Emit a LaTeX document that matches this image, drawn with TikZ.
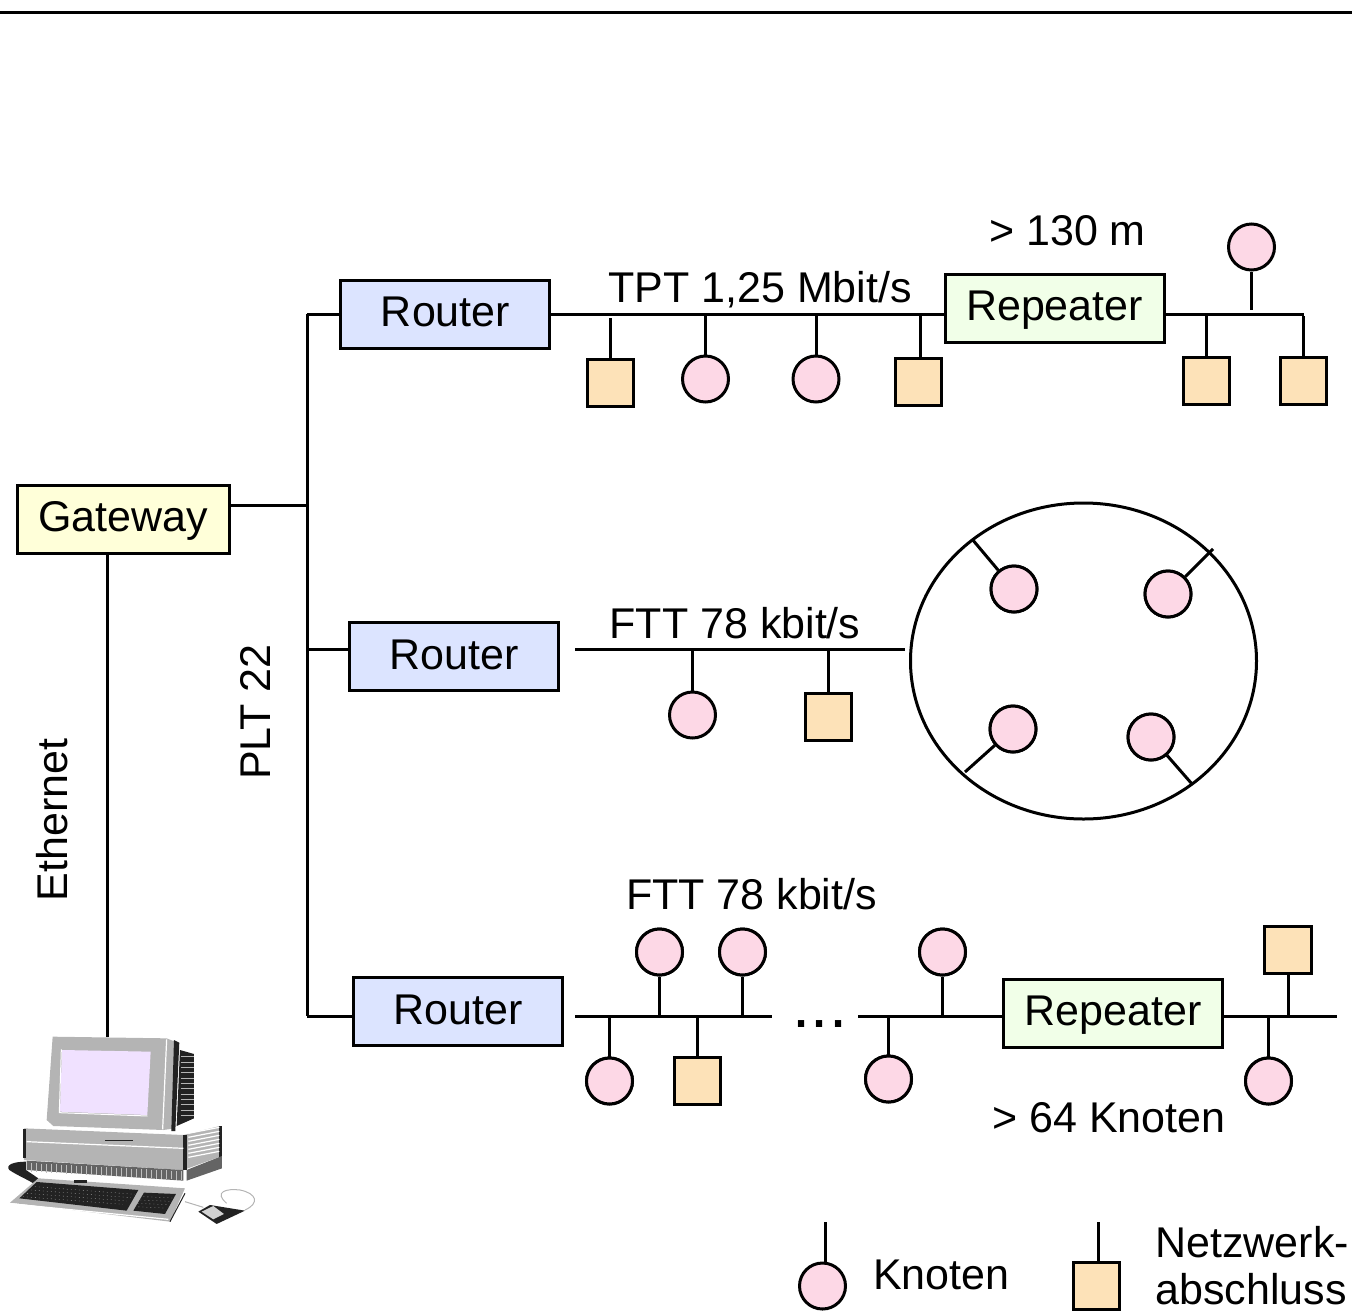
\documentclass[tikz,border=0pt]{standalone}
\usepackage{fontspec}
\usetikzlibrary{shapes.geometric}
\setmainfont{Liberation Sans}
\begin{document}
\begin{tikzpicture}[x=1pt,y=-1pt,line width=3pt,line cap=butt,
  box/.style={draw,inner sep=0pt,text height=30pt,text depth=6pt,minimum height=68pt},
  gw/.style={box,fill=gwc,minimum width=212pt},
  rt/.style={box,fill=rtc,minimum width=209pt},
  rp/.style={box,fill=rpc,minimum width=219pt},
  kn/.style={circle,draw,fill=knc,inner sep=0pt,minimum size=46pt},
  ab/.style={rectangle,draw,fill=abc,inner sep=0pt,minimum size=46.5pt},
  lbl/.style={inner sep=0pt,anchor=base}]
\definecolor{gwc}{HTML}{FFFFD9}
\definecolor{rtc}{HTML}{DCE4FF}
\definecolor{rpc}{HTML}{F1FFE8}
\definecolor{knc}{HTML}{FDD8E6}
\definecolor{abc}{HTML}{FDE2B8}
\definecolor{scr}{HTML}{F0E1FF}
\definecolor{cg}{HTML}{B4B4B4}
\definecolor{cd}{HTML}{222222}
\useasboundingbox (0,0) rectangle (1352,1315);
\fontsize{43pt}{47pt}\selectfont
\coordinate (r0) at (0,12); \coordinate (r1) at (1352,12);
\draw (r0) -- (r1);
% boxes
\node[gw] (gate) at (123,519) {Gateway};
\node[rt] (rta) at (445,314) {\hspace{1pt}Router};
\node[rt] (rtb) at (453.5,656.5) {\hspace{1pt}\raisebox{-1pt}{Router}};
\node[rt] (rtc) at (457.5,1011.5) {\hspace{1pt}\raisebox{-1pt}{Router}};
\node[rp] (rpa) at (1054.5,308) {Repeater};
\node[rp] (rpb) at (1113,1013.5) {Repeater};
% main bus
\coordinate (bg) at (307,505); \coordinate (ba) at (307,314);
\coordinate (bb) at (307,649); \coordinate (bc) at (307,1016);
\draw[line cap=square] (ba) -- (bc);
\draw (gate.east |- bg) -- (bg);
\draw (ba) -- (rta.west |- ba);
\draw (bb) -- (rtb.west |- bb);
\draw (bc) -- (rtc.west |- bc);
% computer link
\coordinate (pc) at (107,1037);
\draw (gate.south -| pc) -- (pc);
% top segment
\coordinate (ta) at (1304,314);
\draw (rta.east |- ta) -- (rpa.west |- ta);
\draw (rpa.east |- ta) -- (ta);
\node[ab] (a1) at (610.5,383) {};
\node[kn] (a2) at (705.5,379) {};
\node[kn] (a3) at (816,379) {};
\node[ab] (a4) at (918.5,382) {};
\node[ab] (a5) at (1206.5,381) {};
\node[ab] (a6) at (1303.5,381) {};
\node[kn] (a7) at (1251.5,247) {};
\draw (a1.north) -- ++(0,-40);
\draw (a2.north) -- ++(0,-42);
\draw (a3.north) -- ++(0,-42);
\draw ([xshift=2pt]a4.north) -- ++(0,-41);
\draw (a5.north) -- ++(0,-40);
\draw (a6.north) -- ++(0,-40);
\draw (a7.south) -- ++(0,38);
% middle segment
\coordinate (m0) at (575,649); \coordinate (m1) at (905,649);
\draw (m0) -- (m1);
\node[kn] (b1) at (692.5,715) {};
\node[ab] (b2) at (828.5,717) {};
\draw (b1.north) -- (b1.north |- m0);
\draw (b2.north) -- (b2.north |- m0);
\node[ellipse,draw,minimum width=346pt,minimum height=316pt,inner sep=0pt] (ring) at (1083.5,661) {};
\node[kn] (c1) at (1014,589) {};
\node[kn] (c2) at (1168,594) {};
\node[kn] (c3) at (1013,729) {};
\node[kn] (c4) at (1151,737) {};
\coordinate (e1) at (972,539); \coordinate (e2) at (1213,549);
\coordinate (e3) at (965,772); \coordinate (e4) at (1192,784);
\draw (c1) -- (e1); \draw (c2) -- (e2); \draw (c3) -- (e3); \draw (c4) -- (e4);
\node[kn] at (c1) {}; \node[kn] at (c2) {}; \node[kn] at (c3) {}; \node[kn] at (c4) {};
% bottom segment
\coordinate (s0) at (575,1016); \coordinate (s1) at (772,1016);
\coordinate (s2) at (858,1016); \coordinate (s3) at (1337,1016);
\draw (s0) -- (s1);
\draw (s2) -- (rpb.west |- s2);
\draw (rpb.east |- s3) -- (s3);
\node[kn] (d1) at (659.5,952) {};
\node[kn] (d2) at (742.5,952) {};
\node[kn] (d3) at (609.5,1081) {};
\node[ab] (d4) at (697.5,1081) {};
\node[kn] (d5) at (942.5,952) {};
\node[kn] (d6) at (888.5,1079) {};
\node[ab] (d7) at (1288,950) {};
\node[kn] (d8) at (1268.5,1081) {};
\foreach \n in {d1,d2,d3,d4,d5,d6,d7,d8} {\draw (\n) -- (\n |- s0);}
\foreach \n/\k in {d1/kn,d2/kn,d3/kn,d4/ab,d5/kn,d6/kn,d7/ab,d8/kn} {\node[\k] at (\n) {};}
% labels
\node[lbl] (t1) at (760,302) {TPT 1,25 Mbit/s};
\node[lbl] (t2) at (1067.5,245) {> 130 m};
\node[lbl] (t3) at (735,638) {FTT 78 kbit/s};
\node[lbl] (t4) at (751.5,909) {FTT 78 kbit/s};
\node[lbl] (t5) at (1109,1132) {> 64 Knoten};
\node[lbl] (t6) at (820,1027) {\fontsize{65pt}{70pt}\selectfont ...};
\node[lbl,rotate=90] (t7) at (67,820) {Ethernet};
\node[lbl,rotate=90] (t8) at (270,712) {PLT 22};
% legend
\node[kn] (l1) at (822.5,1286) {};
\coordinate (lt1) at (825,1222);
\draw (l1.north -| lt1) -- (lt1);
\node[ab] (l2) at (1096.5,1286) {};
\coordinate (lt2) at (1098,1222);
\draw (l2.north -| lt2) -- (lt2);
\node[lbl,anchor=base west] (t9) at (871.5,1289) {Knoten};
\node[lbl,anchor=base west] (t10) at (1154,1257) {Netzwerk-};
\node[lbl,anchor=base west] (t11) at (1154,1304) {abschluss};
% computer
\begin{scope}[shift={(0,1020)},x=0.3333pt,y=-0.3333pt,line width=1pt]
 % cable
 \fill[cd] (78,425) .. controls (40,425) and (15,435) .. (28,450) .. controls (50,465) and (85,480) .. (100,490) -- (115,475) -- (78,450) -- cycle;
 % base unit
 \fill[cg] (72,325) -- (550,345) -- (660,318) -- (660,410) -- (550,450) -- (72,420) -- cycle;
 \fill[white] (80,320) -- (170,312) -- (655,310) -- (550,335) -- cycle;
 \fill[cd] (70,326) rectangle (78,415);
 \fill[cd] (550,345) rectangle (562,450);
 \fill[cd] (658,318) rectangle (666,410);
 \draw[white,line width=1.2pt] (80,365) -- (550,385);
 \draw[cd,line width=.6pt] (315,362) -- (400,362);
 \foreach \y in {340,352,...,412} {\draw[white,line width=1.2pt] (565,\y) -- (658,\y-18);}
 \fill[cd!70] (80,422) -- (550,450) -- (550,482) -- (80,450) -- cycle;
 \fill[cd!70] (560,450) -- (666,408) -- (666,445) -- (560,482) -- cycle;
 \foreach \x in {95,110,...,545} {\draw[white!75!black,line width=.8pt] (\x,424+\x*0.055) -- (\x,450+\x*0.055);}
 % monitor
 \fill[cd] (540,90) -- (582,102) -- (582,295) -- (530,318) -- cycle;
 \foreach \y in {110,126,...,286} {\draw[cg,line width=1pt] (542,\y) -- (582,\y);}
 \fill[cg] (158,50) -- (500,55) -- (525,65) -- (525,325) -- (490,330) -- (160,318) -- (140,300) -- cycle;
 \fill[scr] (186,90) -- (452,95) -- (442,285) -- (180,275) -- cycle;
 \draw[white,line width=1.2pt] (500,58) -- (488,328);
 \draw[white,line width=1pt] (184,88) -- (178,278) -- (442,288);
 \fill[cd] (522,60) -- (538,68) -- (526,333) -- (514,333) -- cycle;
 % keyboard
 \fill[cg] (115,475) -- (555,505) -- (510,605) -- (30,548) -- cycle;
 \draw[white,line width=1.2pt] (40,552) -- (505,598);
 \fill[cd] (110,486) -- (415,510) -- (380,572) -- (58,535) -- cycle;
 \fill[cd] (432,518) -- (528,522) -- (495,582) -- (400,572) -- cycle;
 \foreach \i in {0,1,2,3} {\draw[cg,line width=.3pt,dash pattern=on 1pt off 3pt] (105-\i*12,500+\i*10) -- (405-\i*12,523+\i*10);
   \draw[cg,line width=.3pt,dash pattern=on 1pt off 3pt] (430-\i*9,530+\i*10) -- (520-\i*9,534+\i*10);}
 \draw[cd,line width=1pt] (510,605) -- (555,520);
 \fill[cd] (222,480) rectangle (262,490);
 % mouse
 \draw[cg,line width=1pt] (555,545) -- (610,562);
 \draw[cg,line width=1pt] (680,550) .. controls (640,515) and (680,505) .. (720,510) .. controls (770,520) and (780,550) .. (735,570);
 \fill[cd] (630,555) -- (735,572) -- (650,612) -- (595,575) -- cycle;
 \fill[cg!60] (605,575) -- (640,558) -- (672,582) -- (640,598) -- cycle;
\end{scope}
\end{tikzpicture}
\end{document}
